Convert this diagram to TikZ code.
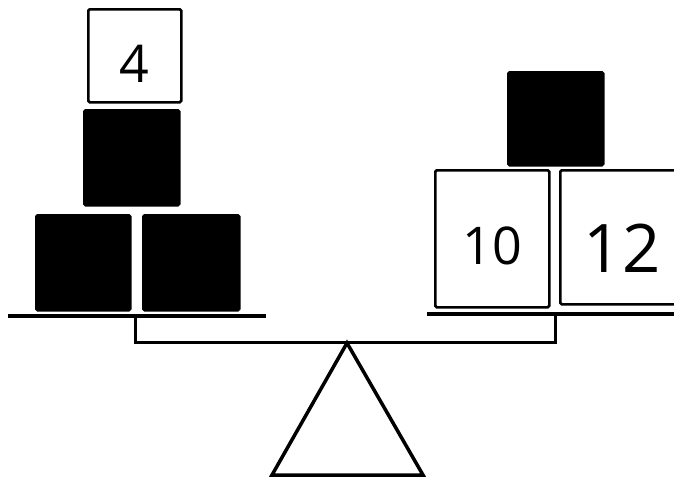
\documentclass[tikz,border=0pt]{standalone}
\usepackage{fontspec}
\setmainfont{Open Sans}
\usetikzlibrary{positioning}

\begin{document}
\begin{tikzpicture}[x=1pt,y=-1pt,
    weight/.style={draw=black,line width=2.5pt,rounded corners=1.5pt,fill=white,
                   inner sep=0pt,anchor=north west},
    unknown/.style={weight,fill=black},
    plate/.style={line width=4pt},
    beam/.style={line width=3pt},
    fulcrum/.style={line width=3.5pt,line join=miter}
  ]
    \useasboundingbox (0,0) rectangle (674,477);
    % left pan
    \node[weight,minimum width=93pt,minimum height=93pt,text height=53pt,
          font=\fontsize{52}{52}\selectfont] (four) at (87,8) {4};
    \node[unknown,minimum width=95pt,minimum height=95pt] (lx1) at (83,109) {};
    \node[unknown,minimum width=94pt,minimum height=95pt] (lx2) at (35,214) {};
    \node[unknown,minimum width=96pt,minimum height=95pt] (lx3) at (142,214) {};
    % right pan
    \node[unknown,minimum width=95pt,minimum height=93pt] (rx1) at (507,71) {};
    \node[weight,minimum width=114pt,minimum height=137pt,text height=51pt,
          font=\fontsize{52}{52}\selectfont] (ten) at (434,169) {10};
    \node[weight,minimum width=124pt,minimum height=134pt,text height=70pt,
          font=\fontsize{67}{67}\selectfont] (twelve) at (559,169) {12};
    % scale
    \coordinate (lplW) at (8,316);
    \coordinate (lplE) at (266,316);
    \coordinate (lpl) at (135,316);
    \coordinate (rplW) at (427,314);
    \coordinate (rplE) at (676,314);
    \coordinate (rpl) at (555,314);
    \coordinate (lhang) at (135,342);
    \coordinate (rhang) at (555,342);
    \coordinate (pivot) at (347,343);
    \coordinate (baseW) at (272,475);
    \coordinate (baseE) at (423,475);
    \draw[plate] (lplW) -- (lplE);
    \draw[plate] (rplW) -- (rplE);
    \draw[beam] (lpl) -- (lhang) -- (rhang) -- (rpl);
    \draw[fulcrum] (pivot) -- (baseW) -- (baseE) -- cycle;
\end{tikzpicture}
\end{document}
